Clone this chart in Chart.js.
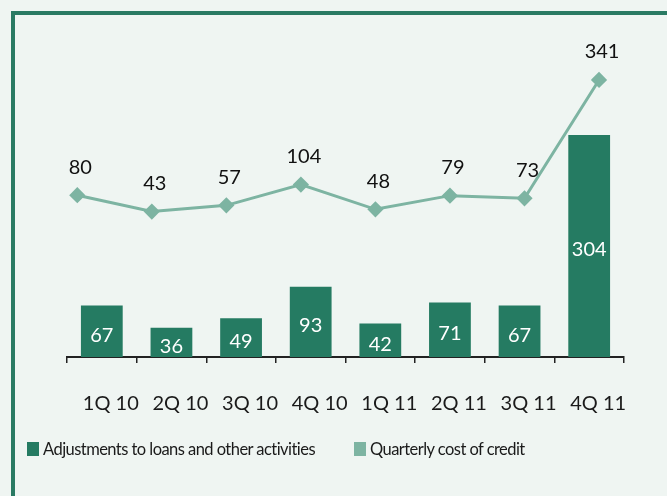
<!DOCTYPE html>
<html>
<head>
<meta charset="utf-8">
<script src="https://cdn.jsdelivr.net/npm/chart.js@4/dist/chart.umd.min.js"></script>
<style>
    body { margin: 0; background: #eff5f2; overflow: hidden; }
    #wrap { position: relative; width: 667px; height: 496px; }
    #frame {
        position: absolute; left: 11px; top: 11px; width: 700px; height: 520px;
        border-top: 4px solid #2a7a63; border-left: 4px solid #2a7a63;
    }
    canvas { position: absolute; left: 0; top: 0; }
    #legend {
        position: absolute; left: 27px; top: 439px; display: flex;
        font-family: Lato, sans-serif; font-size: 16.5px; letter-spacing: -0.55px; color: #1a1a1a;
    }
    .item { display: flex; align-items: center; }
    .box { width: 12px; height: 14px; margin-right: 4px; }
</style>
</head>
<body>
<div id="wrap">
    <div id="frame"></div>
    <canvas id="chart" width="667" height="496"></canvas>
    <div id="legend"></div>
</div>
<script>
var quarters = ['1Q 10', '2Q 10', '3Q 10', '4Q 10', '1Q 11', '2Q 11', '3Q 11', '4Q 11']
var adjustments = [67, 36, 49, 93, 42, 71, 67, 304]
var costOfCredit = [80, 43, 57, 104, 48, 79, 73, 341]

var barColor = '#257b62'
var lineColor = '#7db4a2'

// value labels: white inside the bars, black above the line points
var valueLabels = {
    id: 'valueLabels',
    afterDatasetsDraw(chart) {
        var ctx = chart.ctx
        ctx.save()
        ctx.textAlign = 'center'
        ctx.textBaseline = 'middle'
        ctx.font = '20px Lato'
        chart.getDatasetMeta(0).data.forEach((el, i) => {
            ctx.fillStyle = '#ffffff'
            ctx.fillText(adjustments[i], el.x, (el.y + el.base) / 2 + 4)
        })
        chart.getDatasetMeta(1).data.forEach((el, i) => {
            ctx.fillStyle = '#111111'
            ctx.fillText(costOfCredit[i], el.x + 3, el.y - 28)
        })
        ctx.restore()
    }
}

var ctx = document.getElementById('chart').getContext('2d')
var myChart = new Chart(ctx, {
    type: 'bar',
    data: {
        labels: quarters,
        datasets: [{
            label: 'Adjustments to loans and other activities',
            data: adjustments,
            backgroundColor: barColor,
            barPercentage: 0.6,
            categoryPercentage: 1,
            grouped: false,
            base: -4.7,
            yAxisID: 'y',
            xAxisID: 'x',
            order: 2
        }, {
            type: 'line',
            label: 'Quarterly cost of credit',
            data: costOfCredit.map((v, i) => ({ x: i, y: v })),
            borderColor: lineColor,
            backgroundColor: lineColor,
            borderWidth: 3,
            pointStyle: 'rectRot',
            pointRadius: 6,
            pointHoverRadius: 6,
            yAxisID: 'y2',
            xAxisID: 'x2',
            order: 1
        }]
    },
    options: {
        responsive: false,
        animation: false,
        layout: { padding: { left: 67, right: 43, top: 20, bottom: 0 } },
        plugins: { legend: { display: false }, tooltip: { enabled: false } },
        scales: {
            x: {
                offset: true,
                afterFit: (scale) => { scale.height = 139 },
                grid: { offset: true, drawOnChartArea: false, tickLength: 6, color: '#222', lineWidth: 1.5 },
                border: { display: true, color: '#222', width: 2 },
                ticks: { color: '#1a1a1a', font: { family: 'Lato', size: 20 }, padding: 29, labelOffset: 9, maxRotation: 0 }
            },
            x2: {
                type: 'linear',
                display: false,
                offset: false,
                min: -0.138,
                max: 7.335
            },
            y: { display: false, min: -4.7, max: 463.8 },
            y2: { display: false, min: -286.4, max: 476.7 }
        }
    },
    plugins: [valueLabels]
})

// legend row under the chart
var legend = document.getElementById('legend')
var items = [['Adjustments to loans and other activities', barColor, '39px'], ['Quarterly cost of credit', lineColor, '0']]
items.forEach((it) => {
    var div = document.createElement('div')
    div.className = 'item'
    div.style.marginRight = it[2]
    var box = document.createElement('div')
    box.className = 'box'
    box.style.backgroundColor = it[1]
    var span = document.createElement('span')
    span.innerHTML = it[0]
    div.append(box, span)
    legend.append(div)
})
</script>
</body>
</html>
